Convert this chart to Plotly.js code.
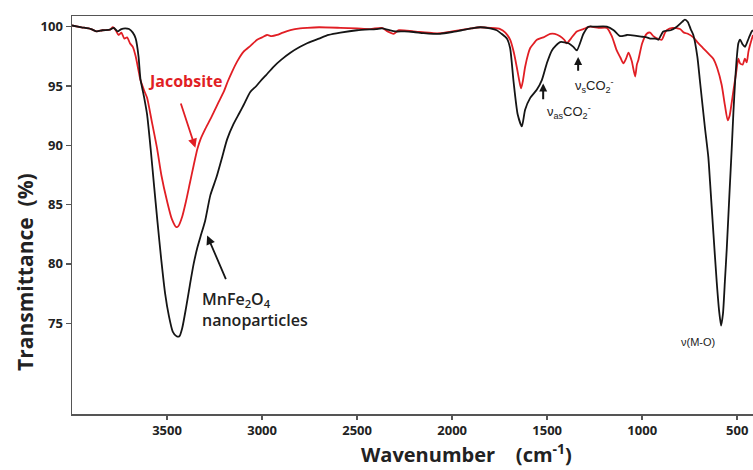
<!DOCTYPE html>
<html>
<head>
<meta charset="utf-8">
<script src="https://cdn.plot.ly/plotly-3.0.1.min.js"></script>
<style>html,body{margin:0;padding:0;background:#fff}#chart{width:753px;height:470px}</style>
</head>
<body>
<div id="chart"></div>
<script>
// MnFe2O4 nanoparticles (black)
const nanoWavenumber = [4000,3950,3900,3870,3840,3800,3780,3760,3740,3720,3700,3680,3665,3650,3640,3620,3605,3585,3570,3550,3530,3510,3490,3470,3450,3435,3420,3400,3380,3360,3340,3324,3300,3272,3240,3210,3184,3150,3120,3097,3062,3030,3009,2980,2941,2900,2851,2800,2763,2700,2650,2588,2500,2400,2369,2330,2300,2250,2203,2150,2100,2063,2000,1950,1900,1852,1800,1765,1740,1712,1695,1677,1655,1633,1616,1589,1554,1528,1502,1475,1432,1388,1362,1344,1309,1283,1250,1186,1150,1116,1080,1040,1000,976,958,930,915,889,850,818,790,775,760,745,731,710,696,670,652,643,625,608,595,585,575,565,555,540,529,520,511,500,494,485,471,459,445,435,424,417];
const nanoTransmittance = [100.1,99.95,99.8,99.6,99.7,99.75,99.9,99.6,99.8,99.85,99.8,99.5,99.0,97.5,95.6,94.0,92.6,89.5,86.9,83.5,80.3,77.5,75.6,74.3,73.9,73.9,74.6,76.3,78.2,80.0,81.4,82.3,83.6,85.8,87.3,89.0,90.5,91.8,92.7,93.4,94.5,95.0,95.4,95.9,96.6,97.2,97.8,98.3,98.6,99.0,99.3,99.5,99.7,99.8,99.85,99.7,99.6,99.6,99.55,99.45,99.4,99.4,99.55,99.7,99.85,99.95,99.85,99.7,99.4,99.0,98.2,95.4,92.6,91.6,93.0,94.0,94.7,95.5,96.9,98.0,98.7,98.6,98.3,98.0,99.4,100.0,100.0,100.0,99.7,99.2,99.3,99.25,99.15,99.1,99.0,99.0,98.9,99.6,99.7,100.0,100.4,100.6,100.4,99.8,99.3,97.5,95.4,91.5,89.0,86.9,82.5,78.5,76.0,74.8,75.8,78.5,81.3,86.2,89.7,92.8,95.4,97.8,98.6,98.9,98.5,98.3,98.8,99.2,99.6,99.7];

// Jacobsite (red)
const jacWavenumber = [4000,3950,3900,3870,3840,3800,3785,3770,3755,3740,3725,3710,3695,3680,3665,3650,3640,3620,3605,3580,3552,3530,3500,3475,3451,3440,3420,3400,3380,3360,3340,3324,3298,3272,3254,3230,3202,3180,3158,3130,3097,3060,3026,3000,2974,2950,2921,2890,2851,2800,2763,2700,2588,2500,2431,2369,2340,2308,2280,2203,2100,2063,2000,1900,1852,1800,1747,1720,1695,1675,1660,1645,1637,1628,1616,1600,1589,1570,1554,1520,1484,1460,1432,1410,1397,1375,1344,1310,1274,1230,1186,1160,1134,1115,1099,1085,1072,1055,1037,1028,1020,1000,976,958,941,920,897,880,871,840,801,780,760,731,710,680,650,626,605,582,565,550,540,530,520,505,494,485,471,460,450,441,430,417];
const jacTransmittance = [100.1,99.95,99.8,99.6,99.7,99.75,99.95,99.7,99.3,99.5,99.0,99.1,98.6,98.3,97.5,96.3,95.5,94.6,94.0,92.0,89.7,87.5,85.3,83.8,83.1,83.2,84.0,85.3,86.8,88.3,89.7,90.5,91.4,92.2,92.8,93.6,94.5,95.4,96.2,97.1,97.9,98.4,98.9,99.1,99.3,99.2,99.3,99.5,99.7,99.85,99.9,99.95,99.9,99.85,99.8,99.9,99.6,99.4,99.7,99.6,99.45,99.45,99.6,99.85,99.95,99.9,99.8,99.5,98.9,97.8,96.6,95.3,94.8,95.4,96.6,97.7,98.2,98.6,98.9,99.1,99.4,99.4,99.2,98.9,98.6,99.0,99.6,99.8,100.0,99.9,99.9,99.2,98.0,97.4,96.9,97.3,97.8,97.1,95.8,96.8,97.2,98.6,99.4,99.5,99.2,99.0,98.9,99.5,99.7,99.9,99.8,99.5,99.4,99.1,98.7,98.2,97.7,97.3,96.5,95.1,93.4,92.1,92.5,93.5,94.6,96.2,97.3,96.9,96.8,97.3,97.0,97.9,98.6,99.3];

const yTicks = [75,80,85,90,95,100];
const xTicks = [3500,3000,2500,2000,1500,1000,500];

const red = 'rgb(225,30,36)';
const black = '#151515';

const traces = [
  {x: jacWavenumber, y: jacTransmittance, type:'scatter', mode:'lines', line:{color:red, width:1.8, shape:'spline', smoothing:0.6}, name:'Jacobsite'},
  {x: nanoWavenumber, y: nanoTransmittance, type:'scatter', mode:'lines', line:{color:black, width:1.8, shape:'spline', smoothing:0.6}, name:'MnFe2O4'}
];

const tickFont = {family:'Open Sans', size:13, weight:'bold', color:'#222'};
const labelFont = {family:'Liberation Sans', size:13, color:'#222'};

const layout = {
  width:753, height:470,
  margin:{l:72, r:0, t:16, b:56},
  paper_bgcolor:'#fff', plot_bgcolor:'#fff',
  showlegend:false,
  xaxis:{range:[4000,417], tickvals:xTicks, ticktext:xTicks.map(String), ticks:'outside', ticklen:4, tickwidth:1.5, tickcolor:'#555',
         showline:true, linecolor:'#555', linewidth:1.5, mirror:true, showgrid:false, zeroline:false, tickfont:tickFont},
  yaxis:{range:[67.35,100.9], tickvals:yTicks, ticktext:yTicks.map(String), ticks:'outside', ticklen:5, tickwidth:1.5, tickcolor:'#555',
         showline:true, linecolor:'#555', linewidth:1.5, showgrid:false, zeroline:false, tickfont:tickFont},
  annotations:[
    {xref:'paper', yref:'paper', x:-0.069, y:0.357, text:'Transmittance\u00a0\u00a0(%)', textangle:-90, showarrow:false,
     font:{family:'Open Sans', size:21, weight:'bold', color:'#222'}, xanchor:'center', yanchor:'middle'},
    {xref:'paper', yref:'paper', x:0.5786, y:-0.098, text:'Wavenumber\u00a0\u00a0\u00a0\u00a0(cm<sup>-1</sup>)', showarrow:false,
     font:{family:'Open Sans', size:20, weight:'bold', color:'#222'}, xanchor:'center', yanchor:'middle'},
    {x:3408, y:95.4, text:'Jacobsite', showarrow:false, font:{family:'Open Sans', size:16, weight:'bold', color:red}},
    {x:3351, y:89.8, ax:3430, ay:93.65, axref:'x', ayref:'y', text:'', showarrow:true, arrowhead:2, arrowsize:1, arrowwidth:1.8, arrowcolor:red},
    {x:3328, y:78.1, text:'MnFe<sub>2</sub>O<sub>4</sub><br>nanoparticles', align:'left', xanchor:'left', yanchor:'top', showarrow:false,
     font:{family:'Open Sans', size:16, weight:600, color:'#222'}},
    {x:3289, y:82.4, ax:3187, ay:78.6, axref:'x', ayref:'y', text:'', showarrow:true, arrowhead:2, arrowsize:1, arrowwidth:1.8, arrowcolor:black},
    {x:1521, y:95.2, ax:1521, ay:93.75, axref:'x', ayref:'y', text:'', showarrow:true, arrowhead:2, arrowsize:0.8, arrowwidth:2, arrowcolor:black},
    {x:1510, y:93.7, text:'\u03bd<sub>as</sub>CO<sub>2</sub><sup>-</sup>', xanchor:'left', yanchor:'top', showarrow:false, font:labelFont},
    {x:1337, y:97.45, ax:1337, ay:96.15, axref:'x', ayref:'y', text:'', showarrow:true, arrowhead:2, arrowsize:0.8, arrowwidth:2, arrowcolor:black},
    {x:1363, y:95.9, text:'\u03bd<sub>s</sub>CO<sub>2</sub><sup>-</sup>', xanchor:'left', yanchor:'top', showarrow:false, font:labelFont},
    {x:706, y:73.4, text:'\u03bd(M-O)', showarrow:false, font:{family:'Liberation Sans', size:11, color:'#222'}}
  ]
};

Plotly.newPlot('chart', traces, layout, {staticPlot:true, displayModeBar:false});
</script>
</body>
</html>
